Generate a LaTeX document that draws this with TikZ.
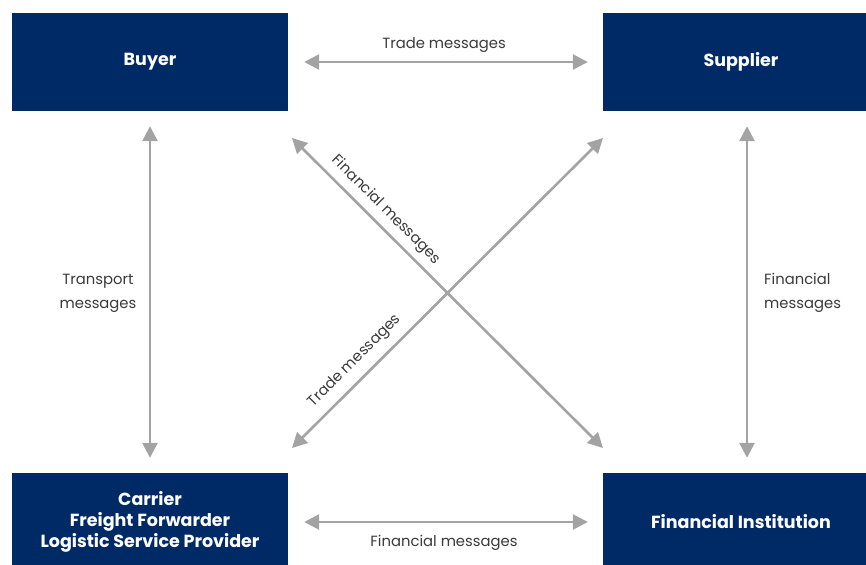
\documentclass[tikz,border=0pt]{standalone}
\usepackage{fontspec}
\setmainfont{Poppins}
\usetikzlibrary{arrows.meta}
\definecolor{navy}{HTML}{002A66}
\definecolor{arrowgray}{HTML}{A3A3A3}
\definecolor{labelgray}{HTML}{3A3A3A}
\begin{document}
\begin{tikzpicture}[x=1pt,y=-1pt,
  party/.style={fill=navy, text=white, font=\fontsize{17.5}{21}\selectfont\bfseries,
    minimum width=276pt, minimum height=98pt, inner sep=0pt, align=center},
  msg/.style={draw=arrowgray, line width=2.6pt,
    {Triangle[length=15pt,width=15pt]}-{Triangle[length=15pt,width=15pt]}},
  lbl/.style={text=labelgray, font=\fontsize{14.8}{24}\selectfont, inner sep=0pt}]
\useasboundingbox (0,0) rectangle (866,564);
\fill[white] (0,0) rectangle (866,564);

\node[party] (buyer) at (150,62) {Buyer};
\node[party] (supplier) at (741,62) {Supplier};
\node[party] (carrier) at (150,522) {Carrier\\Freight Forwarder\\Logistic Service Provider};
\node[party] (fi) at (741,522) {Financial Institution};

\coordinate (d1s) at (292,138);
\coordinate (d1e) at (603,448);
\coordinate (d2s) at (292,448);
\coordinate (d2e) at (603,138);

\draw[msg, shorten <=16pt, shorten >=15pt] (buyer.east) -- (supplier.west);
\draw[msg, shorten <=16pt, shorten >=15pt] (carrier.east) -- (fi.west);
\draw[msg, shorten <=15pt, shorten >=15pt] (buyer.south) -- (carrier.north);
\draw[msg, shorten <=15pt, shorten >=15pt] ([xshift=6pt]supplier.south) -- ([xshift=6pt]fi.north);
\draw[msg] (d1s) -- (d1e);
\draw[msg] (d2s) -- (d2e);

\node[lbl] (ltop) at (444,45) {Trade messages};
\node[lbl] (lbot) at (444,543) {Financial messages};
\node[lbl, align=center] (lleft) at (98,293) {Transport\\messages};
\node[lbl, align=left, anchor=west] (lright) at (764,293) {Financial\\messages};
\node[lbl, rotate=-45] (ldiag1) at (386,210) {Financial messages};
\node[lbl, rotate=45] (ldiag2) at (355,361) {Trade messages};
\end{tikzpicture}
\end{document}
